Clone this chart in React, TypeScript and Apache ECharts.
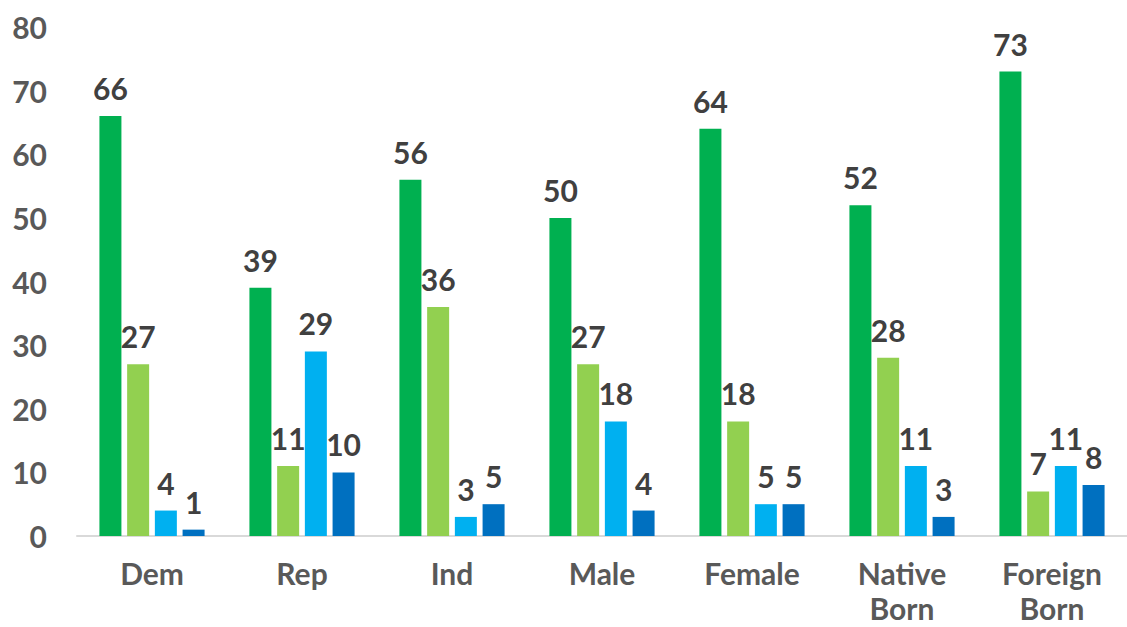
import React, { useEffect, useRef } from "react";
import * as echarts from "echarts";

const categories = ["Dem", "Rep", "Ind", "Male", "Female", "Native\nBorn", "Foreign\nBorn"];
const series1 = [66, 39, 56, 50, 64, 52, 73];
const series2 = [27, 11, 36, 27, 18, 28, 7];
const series3 = [4, 29, 3, 18, 5, 11, 11];
const series4 = [1, 10, 5, 4, 5, 3, 8];
const colors = ["#00B050", "#92D050", "#00B0F0", "#0070C0"];

const FONT = "Lato";

export default function App() {
  const ref = useRef<HTMLDivElement>(null);
  useEffect(() => {
    if (!ref.current) return;
    const chart = echarts.init(ref.current, undefined, { renderer: "svg" });
    const mk = (data: number[], i: number) => ({
      type: "bar",
      data,
      barWidth: 22,
      barGap: "26%",
      itemStyle: { color: colors[i] },
      label: {
        show: true,
        position: "top",
        distance: 13,
        color: "#404040",
        fontFamily: FONT,
        fontWeight: "bold",
        fontSize: 30,
      },
    });
    chart.setOption({
      animation: false,
      grid: { left: 77, right: -9, top: 27, bottom: 91 },
      xAxis: {
        type: "category",
        data: categories,
        axisLine: { lineStyle: { color: "#d9d9d9", width: 2 } },
        axisTick: { show: false },
        axisLabel: {
          color: "#595959",
          fontFamily: FONT,
          fontWeight: "bold",
          fontSize: 30,
          margin: 19,
          lineHeight: 35,
          verticalAlign: "top",
          interval: 0,
        },
      },
      yAxis: {
        type: "value",
        min: 0,
        max: 80,
        interval: 10,
        axisLine: { show: false },
        axisTick: { show: false },
        splitLine: { show: false },
        axisLabel: {
          color: "#595959",
          fontFamily: FONT,
          fontWeight: "bold",
          fontSize: 30,
          margin: 30,
        },
      },
      series: [mk(series1, 0), mk(series2, 1), mk(series3, 2), mk(series4, 3)],
    });
    return () => chart.dispose();
  }, []);
  return (
    <div
      ref={ref}
      style={{ position: "fixed", left: 0, top: 0, width: 1127, height: 627, background: "#fff" }}
    />
  );
}
